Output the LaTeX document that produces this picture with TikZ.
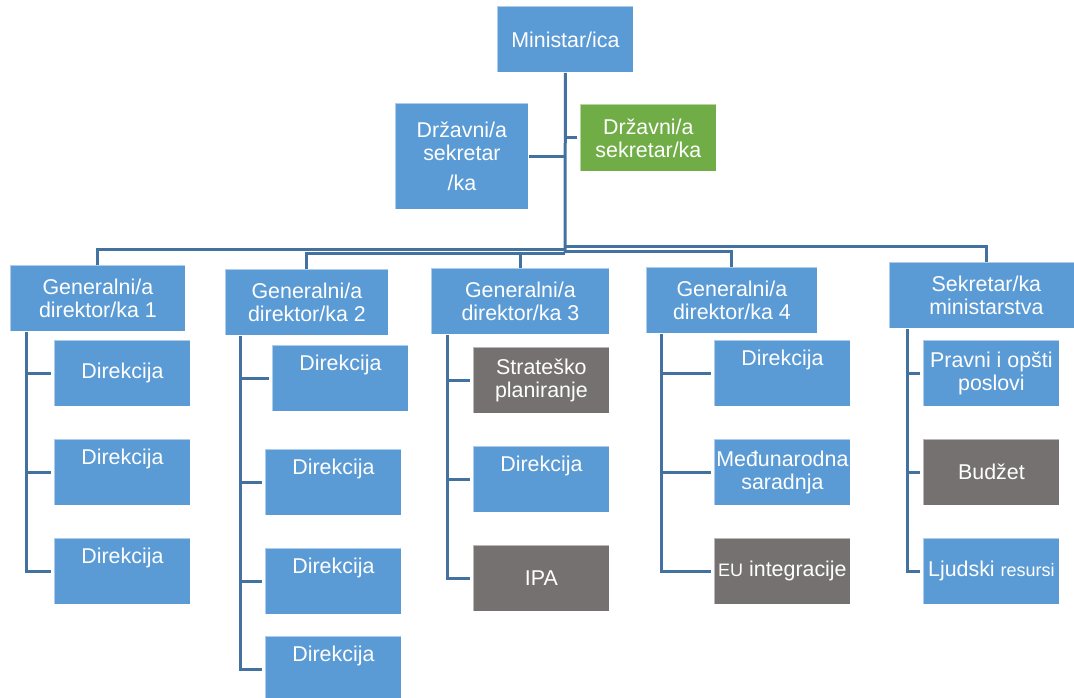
\documentclass[tikz,border=0pt]{standalone}
\usepackage{fontspec}
\setmainfont{Liberation Sans}
\usetikzlibrary{positioning}
\definecolor{unitblue}{RGB}{91,155,213}
\definecolor{unitgreen}{RGB}{112,173,71}
\definecolor{unitgrey}{RGB}{118,113,113}
\definecolor{linkcolor}{RGB}{68,114,160}

\begin{document}
\begin{tikzpicture}[x=1pt, y=-1pt,
    % Styles
    unit box/.style={fill=unitblue, draw=white, draw opacity=0.5, line width=0.8pt, text=white, align=center,
        font=\fontsize{21.4}{23}\selectfont, minimum width=136pt, minimum height=66pt, inner sep=0, anchor=north west},
    grey box/.style={unit box, fill=unitgrey},
    green box/.style={unit box, fill=unitgreen},
    top text/.style={text height=15pt, text depth=30pt},
    org line/.style={draw=linkcolor, line width=3pt},
    small part/.style={font=\fontsize{18}{20}\selectfont},
]
    \useasboundingbox (0,0) rectangle (1074,697);
    \clip (0,0) rectangle (1074,697);

    % === Minister and state secretaries ===
    \node[unit box] (minister) at (497,6) {Ministar/ica};
    \node[unit box, minimum width=133pt, minimum height=106pt] (state-sec-1) at (395,103) {Državni/a\\sekretar\\[7pt]/ka};
    \node[green box, minimum height=67pt] (state-sec-2) at (580,104) {Državni/a\\sekretar/ka};

    % === General directors and secretary ===
    \node[unit box, minimum width=175pt] (gd-1) at (10,265) {Generalni/a\\direktor/ka 1};
    \node[unit box, minimum width=163pt] (gd-2) at (225,269) {Generalni/a\\direktor/ka 2};
    \node[unit box, minimum width=178pt] (gd-3) at (431,268) {Generalni/a\\direktor/ka 3};
    \node[unit box, minimum width=171pt] (gd-4) at (646,267) {Generalni/a\\direktor/ka 4};
    \node[unit box, minimum width=194pt] (sec-min) at (889,262) {Sekretar/ka\\ministarstva};

    % === Units under director 1 ===
    \node[unit box] (gd-1-a) at (54,340) {Direkcija};
    \node[unit box, top text, below=32pt of gd-1-a] (gd-1-b) {Direkcija};
    \node[unit box, top text, below=32pt of gd-1-b] (gd-1-c) {Direkcija};

    % === Units under director 2 ===
    \node[unit box, top text] (gd-2-a) at (272,345) {Direkcija};
    \node[unit box, top text] (gd-2-b) at (265,449) {Direkcija};
    \node[unit box, top text, below=32pt of gd-2-b] (gd-2-c) {Direkcija};
    \node[unit box, top text, below=21pt of gd-2-c] (gd-2-d) {Direkcija};

    % === Units under director 3 ===
    \node[grey box] (gd-3-a) at (473,347) {Strateško\\planiranje};
    \node[unit box, top text, below=32pt of gd-3-a] (gd-3-b) {Direkcija};
    \node[grey box, below=32pt of gd-3-b] (gd-3-c) {IPA};

    % === Units under director 4 ===
    \node[unit box, top text] (gd-4-a) at (714,340) {Direkcija};
    \node[unit box, below=32pt of gd-4-a] (gd-4-b) {Međunarodna\\saradnja};
    \node[grey box, below=32pt of gd-4-b] (gd-4-c) {{\fontsize{18}{20}\selectfont EU} integracije};

    % === Units under the secretary ===
    \node[unit box] (sec-a) at (923,340) {Pravni i opšti\\poslovi};
    \node[grey box, below=32pt of sec-a] (sec-b) {Budžet};
    \node[unit box, below=32pt of sec-b] (sec-c) {Ljudski {\fontsize{18}{20}\selectfont resursi}};

    % Trunk from minister down to the bus
    \coordinate (bus) at (565,253);
    \draw[org line] (minister.south) -- (bus);
    \draw[org line] (state-sec-1.east) -- (state-sec-1.east -| bus);
    \draw[org line] ([xshift=-3pt]state-sec-2.west) -- (state-sec-2.west -| bus);

    % Bus branches to the second level
    \foreach \g/\y in {gd-1/249, gd-2/253, gd-3/253, gd-4/251, sec-min/246}
        \draw[org line] (bus |- 0,\y) -| (\g.north);

    % Spines to the units
    \coordinate (gd-1-spine) at ([xshift=16pt]gd-1.south west);
    \coordinate (gd-2-spine) at ([xshift=15pt]gd-2.south west);
    \coordinate (gd-3-spine) at ([xshift=16pt]gd-3.south west);
    \coordinate (gd-4-spine) at ([xshift=15pt]gd-4.south west);
    \coordinate (sec-spine) at ([xshift=18pt]sec-min.south west);
    \foreach \c in {gd-1-a, gd-1-b, gd-1-c}
        \draw[org line] (gd-1-spine) |- ([xshift=-3pt]\c.west);
    \foreach \c in {gd-2-a, gd-2-b, gd-2-c, gd-2-d}
        \draw[org line] (gd-2-spine) |- ([xshift=-3pt]\c.west);
    \foreach \c in {gd-3-a, gd-3-b, gd-3-c}
        \draw[org line] (gd-3-spine) |- ([xshift=-3pt]\c.west);
    \foreach \c in {gd-4-a, gd-4-b, gd-4-c}
        \draw[org line] (gd-4-spine) |- ([xshift=-3pt]\c.west);
    \foreach \c in {sec-a, sec-b, sec-c}
        \draw[org line] (sec-spine) |- ([xshift=-3pt]\c.west);
\end{tikzpicture}
\end{document}
